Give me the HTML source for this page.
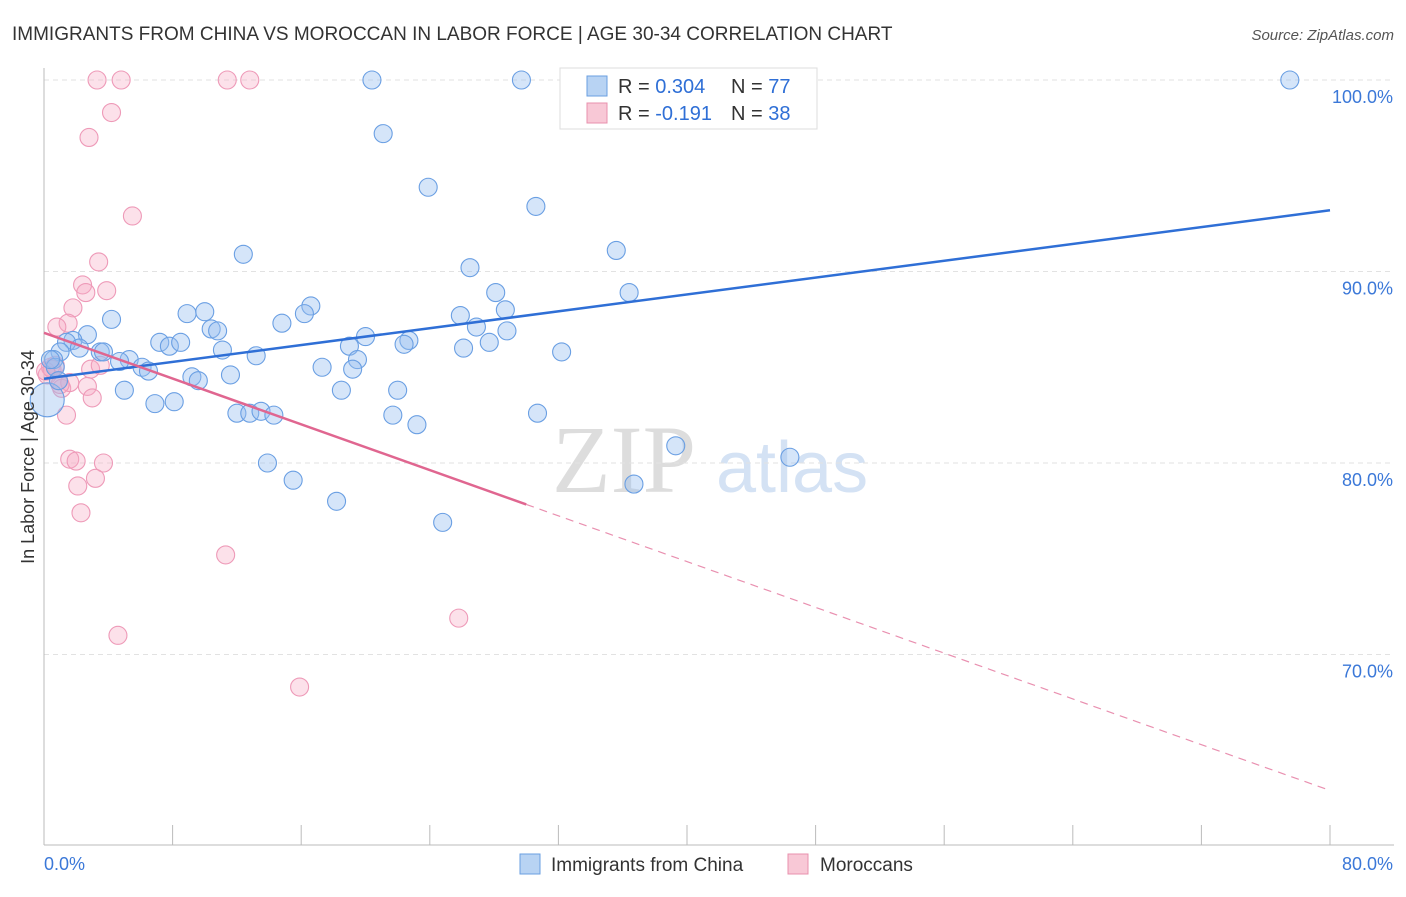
<!DOCTYPE html>
<html><head><meta charset="utf-8"><style>
body{margin:0;background:#fff;font-family:"Liberation Sans",sans-serif}
</style></head><body>
<svg id="chart" width="1406" height="892" xmlns="http://www.w3.org/2000/svg" font-family="Liberation Sans, sans-serif">
<text x="12" y="40" font-size="19" fill="#333">IMMIGRANTS FROM CHINA VS MOROCCAN IN LABOR FORCE | AGE 30-34 CORRELATION CHART</text>
<text x="1394" y="40" font-size="15" fill="#555" text-anchor="end" font-style="italic">Source: ZipAtlas.com</text>
<g>
<text x="552" y="492" font-size="96" fill="#ddd" font-family="Liberation Serif, serif">ZIP</text>
<text x="716" y="492" font-size="72" fill="#d4e2f4">atlas</text>
</g>
<g id="grid"></g>
<g id="axes"></g>
<g id="marks"></g>
<text transform="translate(34,457) rotate(-90)" font-size="18" fill="#333" text-anchor="middle">In Labor Force | Age 30-34</text>
<g>
<rect x="560" y="68" width="257" height="61" fill="#fff" stroke="#ddd"/>
<rect x="587" y="76" width="20" height="20" fill="#b8d3f3" stroke="#6a9fe0"/>
<rect x="587" y="103" width="20" height="20" fill="#f8c8d6" stroke="#e890ad"/>
<text x="618" y="93" font-size="20" fill="#333">R = <tspan fill="#2f6fd6">0.304</tspan></text>
<text x="731" y="93" font-size="20" fill="#333">N = <tspan fill="#2f6fd6">77</tspan></text>
<text x="618" y="120" font-size="20" fill="#333">R = <tspan fill="#2f6fd6">-0.191</tspan></text>
<text x="731" y="120" font-size="20" fill="#333">N = <tspan fill="#2f6fd6">38</tspan></text>
</g>
<g>
<rect x="520" y="854" width="20" height="20" fill="#b8d3f3" stroke="#6a9fe0"/>
<text x="551" y="871" font-size="19" fill="#333">Immigrants from China</text>
<rect x="788" y="854" width="20" height="20" fill="#f8c8d6" stroke="#e890ad"/>
<text x="820" y="871" font-size="19" fill="#333">Moroccans</text>
</g>
</svg>
<script>
const yTicks=[100,90,80,70];
const yTickLabels=["100.0%","90.0%","80.0%","70.0%"];
const xTickVals=[0,8,16,24,32,40,48,56,64,72,80];
const xEndLabels=["0.0%","80.0%"];
const chinaX=[20.4,29.7,32.9,77.5,21.1,23.9,30.6,35.6,12.4,26.5,28.1,36.4,8.9,10.0,14.8,16.6,16.2,4.2,10.4,10.8,26.9,28.8,25.9,28.7,20.0,22.7,22.4,27.7,26.1,19.0,32.2,2.7,1.8,1.4,2.2,7.2,7.8,8.5,11.1,1.0,0.6,3.5,3.7,5.3,4.7,13.2,19.5,17.3,19.2,6.1,6.5,9.2,11.6,9.6,22.0,18.5,5.0,6.9,8.1,12.0,12.8,13.5,14.3,21.7,23.2,30.7,13.9,39.3,46.4,15.5,36.7,18.2,24.8,0.2,0.7,0.4,0.9];
const chinaY=[100,100,100,100,97.2,94.4,93.4,91.1,90.9,90.2,88.9,88.9,87.8,87.9,87.3,88.2,87.8,87.5,87.0,86.9,87.1,86.9,87.7,88.0,86.6,86.4,86.2,86.3,86.0,86.1,85.8,86.7,86.4,86.3,86.0,86.3,86.1,86.3,85.9,85.8,85.4,85.8,85.8,85.4,85.3,85.6,85.4,85.0,84.9,85.0,84.8,84.5,84.6,84.3,83.8,83.8,83.8,83.1,83.2,82.6,82.6,82.7,82.5,82.5,82.0,82.6,80.0,80.9,80.3,79.1,78.9,78.0,76.9,83.3,85.0,85.4,84.3];
const morX=[3.3,4.8,11.4,12.8,4.2,2.8,5.5,3.4,2.4,2.6,3.9,1.8,1.5,0.8,0.7,0.4,0.2,0.9,1.1,1.6,2.9,3.5,2.7,3.0,1.4,1.6,2.0,3.7,3.2,2.1,2.3,11.3,4.6,25.8,15.9,0.5,1.0,0.1];
const morY=[100,100,100,100,98.3,97.0,92.9,90.5,89.3,88.9,89.0,88.1,87.3,87.1,85.1,85.0,84.6,84.3,83.9,84.2,84.9,85.1,84.0,83.4,82.5,80.2,80.1,80.0,79.2,78.8,77.4,75.2,71.0,71.9,68.3,84.9,84.1,84.8];
const chinaTrend=[84.4,93.2];
const morTrend=[86.8,62.9];
const morSolidEnd=30;
const sx=v=>44+v*(1286/80);
const sy=v=>80+(100-v)*19.15;
const NS="http://www.w3.org/2000/svg";
function mk(parent,tag,attrs){const e=document.createElementNS(NS,tag);for(const k in attrs)e.setAttribute(k,attrs[k]);document.getElementById(parent).appendChild(e);return e;}
yTicks.forEach((t,i)=>{
 const l=mk('grid','line',{x1:44,x2:1394,y1:sy(t),y2:sy(t),stroke:'#e2e2e2','stroke-dasharray':'5,4'});
 
 
 const tx=mk('grid','text',{x:1393,y:sy(t)+23,'font-size':18,fill:'#3b78d8','text-anchor':'end'});
 tx.textContent=yTickLabels[i];
 
 
});
const ya=mk('axes','line',{x1:44,x2:44,y1:68,y2:845,stroke:'#bbb'});


const xa=mk('axes','line',{x1:44,x2:1394,y1:845,y2:845,stroke:'#bbb'});


xTickVals.forEach(v=>{
 const t=mk('axes','line',{x1:sx(v),x2:sx(v),y1:825,y2:845,stroke:'#bbb'});
 
 
});
const xl0=mk('axes','text',{x:44,y:870,'font-size':18,fill:'#3b78d8'});xl0.textContent=xEndLabels[0];


const xl1=mk('axes','text',{x:1393,y:870,'font-size':18,fill:'#3b78d8','text-anchor':'end'});xl1.textContent=xEndLabels[1];


morX.forEach((x,i)=>{
 const c=mk('marks','circle',{cx:sx(x),cy:sy(morY[i]),r:9,fill:'rgba(245,170,195,0.35)',stroke:'#ee9ab8','stroke-width':1.1});
 
 
});
chinaX.forEach((x,i)=>{
 const c=mk('marks','circle',{cx:sx(x),cy:sy(chinaY[i]),r:i==73?17:9,fill:'rgba(150,190,240,0.4)',stroke:'#6a9fe3','stroke-width':1.1});
 
 
});
const bl=mk('marks','line',{x1:sx(0),y1:sy(chinaTrend[0]),x2:sx(80),y2:sy(chinaTrend[1]),stroke:'#2f6fd6','stroke-width':2.5});


const mAt=x=>morTrend[0]+(morTrend[1]-morTrend[0])*x/80;
const pl=mk('marks','line',{x1:sx(0),y1:sy(mAt(0)),x2:sx(morSolidEnd),y2:sy(mAt(morSolidEnd)),stroke:'#e06690','stroke-width':2.5});


const pd=mk('marks','line',{x1:sx(morSolidEnd),y1:sy(mAt(morSolidEnd)),x2:sx(80),y2:sy(mAt(80)),stroke:'#e990b0','stroke-width':1.2,'stroke-dasharray':'8,6'});


</script>
</body></html>
